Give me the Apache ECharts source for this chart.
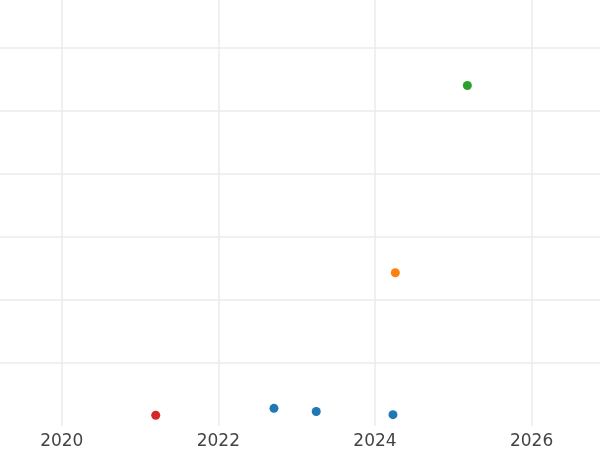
<!DOCTYPE html>
<html>
<head>
<meta charset="utf-8">
<script src="https://cdn.jsdelivr.net/npm/echarts@6/dist/echarts.min.js"></script>
<style>html,body{margin:0;padding:0;background:#fff}#c{width:600px;height:450px}</style>
</head>
<body>
<div id="c"></div>
<script>
// Data (x = year, y = value in gridline units)
const blueX = [2022.71, 2023.25, 2024.23];
const blueY = [0.28, 0.23, 0.18];
const orangeX = [2024.26];
const orangeY = [2.43];
const greenX = [2025.18];
const greenY = [5.40];
const redX = [2021.20];
const redY = [0.17];
const xRange = [2019.211, 2026.874];
const yRange = [0, 6.757];

function pts(xs, ys) { return xs.map((x, i) => [x, ys[i]]); }

const chart = echarts.init(document.getElementById('c'), null, { renderer: 'canvas' });
const mk = (name, xs, ys, color) => ({
  name, type: 'scatter', data: pts(xs, ys), symbolSize: 9,
  itemStyle: { color, opacity: 1 }, clip: true, silent: true
});
chart.setOption({
  animation: false,
  backgroundColor: '#ffffff',
  grid: { left: 0, right: 0, top: 0, bottom: 23.6, containLabel: false },
  xAxis: {
    type: 'value', min: xRange[0], max: xRange[1], splitNumber: 4,
    axisLine: { show: false }, axisTick: { show: false },
    axisLabel: {
      color: '#444444', fontSize: 17, fontFamily: 'DejaVu Sans', margin: 7,
      showMinLabel: false, showMaxLabel: false,
      formatter: v => String(Math.round(v))
    },
    splitLine: { show: true, showMinLine: false, showMaxLine: false, lineStyle: { color: '#ebebeb', width: 1.5 } }
  },
  yAxis: {
    type: 'value', min: yRange[0], max: yRange[1], splitNumber: 6,
    axisLine: { show: false }, axisTick: { show: false }, axisLabel: { show: false },
    splitLine: { show: true, showMinLine: false, showMaxLine: false, lineStyle: { color: '#ebebeb', width: 1.5 } }
  },
  series: [
    mk('blue', blueX, blueY, '#1f77b4'),
    mk('orange', orangeX, orangeY, '#ff7f0e'),
    mk('green', greenX, greenY, '#2ca02c'),
    mk('red', redX, redY, '#d62728')
  ]
});
</script>
</body>
</html>
